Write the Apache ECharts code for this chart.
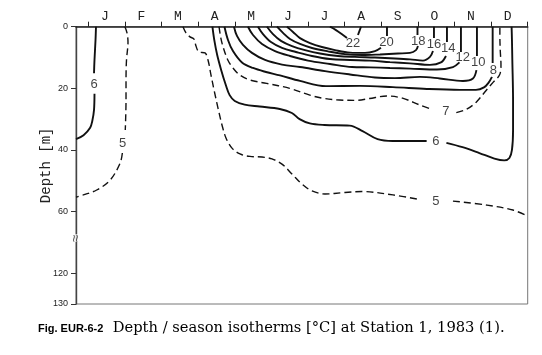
<!DOCTYPE html>
<html><head><meta charset="utf-8">
<script src="https://cdn.jsdelivr.net/npm/echarts@6/dist/echarts.min.js"></script>
<style>html,body{margin:0;padding:0;background:#fff}#c{width:542px;height:355px}</style>
</head><body><div id="c"></div>
<script>
// x: months since 1 Jan (0..12); y: depth on the broken axis (0-60 m as is; 120 m -> 80, 130 m -> 90)
const months = ['J','F','M','A','M','J','J','A','S','O','N','D'];
const depthTicks = [0, 20, 40, 60, 80, 90];
const depthTickLabels = ['0', '20', '40', '60', '120', '130'];

// each isotherm is a list of segments (gaps where the value label sits)
const iso6Winter = [
  [[0.21,0],[0.197,4.3],[0.169,10.8],[0.156,15.1]],
  [[0.169,21.8],[0.156,27.0],[0.11,30.5],[0.05,32.8],[-0.13,35.2],[-0.336,36.5]]
];
const iso5Winter = [
  [[1.0,0],[1.057,2.0],[1.084,5.0],[1.043,10.8],[1.03,17.3],[1.03,23.8],[1.01,33.5]],
  [[0.93,41.0],[0.868,44.3],[0.595,49.8],[0.229,53.0],[-0.137,54.6],[-0.336,55.3]]
];
const iso5 = [
  [[2.586,0],[2.668,2.0],[2.777,3.3],[2.886,4.0],[2.941,6.3],[3.023,8.2],[3.187,8.5],[3.269,10.8],[3.351,15.7],[3.433,20.5],[3.542,26.4],[3.651,31.9],[3.76,36.1],[3.924,39.4],[4.142,41.3],[4.415,42.1],[4.743,42.3],[5.016,42.9],[5.289,44.6],[5.562,47.8],[5.835,51.1],[6.108,53.3],[6.463,54.3],[7.009,53.8],[7.474,53.5],[8.32,54.6],[9.058,56.1]],
  [[9.959,56.6],[10.887,57.9],[11.597,59.5],[11.98,61.4]]
];
const iso6 = [
  [[3.39,0],[3.44,4.3],[3.52,9.2],[3.63,14.1],[3.755,18.9],[3.86,22.2],[4.0,24.1],[4.27,25.3],[4.68,25.9],[5.23,26.7],[5.56,28.0],[5.77,30.0],[6.05,31.4],[6.45,31.9],[7.14,32.1],[7.49,33.9],[7.9,36.5],[8.31,37.1],[9.24,37.1]],
  [[9.78,37.7],[10.22,39.1],[10.68,41.0],[11.09,42.8],[11.36,43.4],[11.5,42.6],[11.57,40.0],[11.6,33.5],[11.6,23.8],[11.58,10.8],[11.57,4.3],[11.56,0]]
];
const iso7 = [
  [[3.57,0],[3.62,3.7],[3.69,6.9],[3.81,10.8],[3.95,13.4],[4.14,15.7],[4.41,17.3],[4.87,18.4],[5.5,20.0],[6.05,22.2],[6.4,23.2],[6.86,23.8],[7.33,23.9],[7.68,23.3],[8.15,22.5],[8.58,23.2],[9.05,25.4],[9.37,26.8]],
  [[10.05,27.9],[10.33,26.8],[10.6,24.4],[10.87,20.6],[11.06,18.0],[11.23,15.7],[11.27,12.4],[11.25,7.6],[11.24,2.7],[11.24,0]]
];
const iso8 = [
  [[3.719,0],[3.815,4.3],[3.951,7.9],[4.197,11.6],[4.498,13.4],[4.853,14.7],[5.235,15.8],[5.781,17.6],[6.491,19.3],[7.42,19.2],[8.32,19.6],[9.247,20.2],[10.148,20.5],[10.587,20.5],[10.806,19.7],[10.942,18.0],[11.024,16.3]],
  [[11.043,11.8],[11.043,5.9],[11.043,0]]
];
const iso10 = [
  [[3.979,0],[4.06,3.0],[4.224,5.9],[4.47,8.5],[4.826,10.8],[5.29,12.3],[5.781,13.1],[6.464,14.4],[7.147,15.5],[7.83,16.5],[8.375,16.7],[9.058,16.3],[9.6,16.8],[10.232,17.6],[10.505,16.8],[10.6,14.1]],
  [[10.614,9.5],[10.614,0]]
];
const iso12 = [
  [[4.361,0],[4.498,2.7],[4.744,5.6],[5.099,7.9],[5.509,9.5],[6.0,11.0],[6.6,12.1],[7.201,13.1],[7.693,13.2],[8.239,13.4],[8.785,13.6],[9.522,13.9],[9.959,13.1],[10.137,11.6]],
  [[10.177,8.2],[10.177,0]]
];
const iso14 = [
  [[4.634,0],[4.771,2.4],[4.989,5.0],[5.29,6.9],[5.672,8.2],[6.109,9.5],[6.6,10.5],[7.147,10.8],[7.693,11.0],[8.239,11.5],[8.785,11.9],[9.331,12.4],[9.631,11.6],[9.768,9.5]],
  [[9.795,5.0],[9.795,0]]
];
const iso16 = [
  [[4.88,0],[5.044,2.4],[5.262,4.6],[5.563,6.3],[5.918,7.6],[6.327,8.7],[6.819,9.5],[7.283,9.8],[7.829,10.0],[8.375,10.3],[8.785,10.6],[9.14,11.0],[9.331,9.8],[9.413,7.9]],
  [[9.44,3.7],[9.44,0]]
];
const iso18 = [
  [[5.153,0],[5.317,2.0],[5.508,4.0],[5.781,5.6],[6.109,6.9],[6.546,8.0],[7.01,8.9],[7.475,9.2],[7.966,9.0],[8.457,8.7],[8.785,8.5],[8.949,7.6],[9.003,6.3]],
  [[8.99,2.7],[8.99,0]]
];
const iso20 = [
  [[5.426,0],[5.59,1.7],[5.781,3.7],[6.054,5.3],[6.381,6.6],[6.736,7.6],[7.146,8.4],[7.556,8.5],[7.829,7.9],[7.993,6.8]],
  [[8.157,3.0],[8.157,0]]
];
const iso22 = [
  [[6.6,0],[6.764,1.1],[6.955,2.7],[7.065,3.7]],
  [[7.365,2.7],[7.447,0]]
];
const isoLabels = [
  ['22',7.228,5.3],['20',8.143,5.1],['18',9.011,4.8],['16',9.44,5.6],['14',9.831,7.0],
  ['12',10.224,10.0],['10',10.65,11.7],['8',11.06,14.3],['7',9.768,27.6],['6',9.495,37.3],
  ['5',9.495,56.6],['6',0.156,18.6],['5',0.939,37.8]
];
const axisBreak = [-0.336, 68.6];

const series = [];
function addIso(segs, dashed) {
  segs.forEach(function (s) {
    series.push({
      type: 'line', data: s, smooth: 0.35, symbol: 'none', silent: true,
      lineStyle: { color: '#111', width: dashed ? 1.4 : 1.9, type: dashed ? [7, 4] : 'solid' }
    });
  });
}
addIso(iso6Winter, false); addIso(iso5Winter, true); addIso(iso5, true);
addIso(iso6, false); addIso(iso7, true); addIso(iso8, false); addIso(iso10, false);
addIso(iso12, false); addIso(iso14, false); addIso(iso16, false); addIso(iso18, false);
addIso(iso20, false); addIso(iso22, false);
series.push({
  type: 'scatter', symbolSize: 0, silent: true,
  data: isoLabels.map(function (l) { return { name: l[0], value: [l[1], l[2]] }; }),
  label: { show: true, position: 'inside', formatter: '{b}', color: '#111',
    fontFamily: 'Liberation Sans', fontSize: 13 }
});
series.push({
  type: 'scatter', symbolSize: 0, silent: true, clip: false, z: 10,
  data: [{ name: '≈', value: axisBreak }],
  label: { show: true, position: 'inside', formatter: '{b}', rotate: 90, color: '#222',
    fontSize: 14, backgroundColor: '#fff', padding: [0, 0] }
});

const chart = echarts.init(document.getElementById('c'), null, { renderer: 'canvas' });
chart.setOption({
  animation: false,
  backgroundColor: '#fff',
  title: {
    text: '{a|Fig. EUR-6-2}{b|  Depth / season isotherms [°C] at Station 1, 1983 (1).}',
    left: 33, top: 316,
    textStyle: { rich: {
      a: { fontFamily: 'Liberation Sans', fontWeight: 'bold', fontSize: 11, color: '#000' },
      b: { fontFamily: 'DejaVu Serif', fontWeight: 'normal', fontSize: 14.7, color: '#000' }
    } }
  },
  grid: { left: 76, right: 14.3, top: 26.7, bottom: 51, show: true, borderColor: '#777', borderWidth: 1, outerBoundsMode: 'none' },
  xAxis: {
    type: 'value', position: 'top', min: -0.336, max: 12,
    splitLine: { show: false },
    axisLine: { show: true, onZero: false, lineStyle: { color: '#222', width: 1.6 } },
    axisTick: { show: true, customValues: [0,1,2,3,4,5,6,7,8,9,10,11,12], length: 5, lineStyle: { color: '#222', width: 1 } },
    axisLabel: { customValues: months.map(function (m, i) { return i + 0.45; }),
      formatter: function (v) { return months[Math.floor(v)]; },
      margin: 4, color: '#222', fontFamily: 'Liberation Mono', fontSize: 13 }
  },
  yAxis: {
    type: 'value', inverse: true, min: 0, max: 90,
    name: 'Depth [m]', nameLocation: 'middle', nameGap: 23, nameMoveOverlap: false,
    nameTextStyle: { fontFamily: 'Liberation Mono', fontSize: 14, color: '#222' },
    splitLine: { show: false },
    axisLine: { show: true, onZero: false, lineStyle: { color: '#444', width: 1.4 } },
    axisTick: { show: true, customValues: depthTicks, length: 5, lineStyle: { color: '#333' } },
    axisLabel: { customValues: depthTicks,
      formatter: function (v) { return depthTickLabels[depthTicks.indexOf(v)]; },
      margin: 8, color: '#222', fontFamily: 'Liberation Sans', fontSize: 9 }
  },
  series: series
});
</script></body></html>
